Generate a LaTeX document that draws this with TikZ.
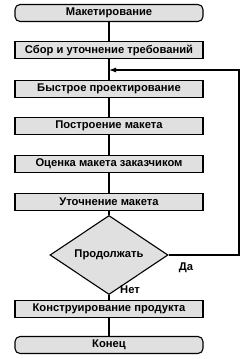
\documentclass[tikz,border=0pt]{standalone}
\usepackage{fontspec}
\setmainfont{Liberation Sans}
\usetikzlibrary{shapes.geometric,arrows.meta}
\begin{document}
\begin{tikzpicture}[x=1pt,y=-1pt,
  txt/.style={font=\fontsize{11.2}{13}\selectfont\bfseries},
  box/.style={txt,draw,line width=1.1pt,fill=gray!24,minimum width=188pt,minimum height=17pt,inner sep=0pt},
  rbox/.style={box,rounded corners=5pt},
  dec/.style={txt,draw,diamond,line width=1.1pt,fill=gray!24,minimum width=118pt,minimum height=54pt,inner sep=0pt},
  lbl/.style={txt,inner sep=0pt},
  conn/.style={line width=1.1pt}]
\useasboundingbox (0,0) rectangle (244,359);
\node[rbox] (b1) at (109,13) {Макетирование};
\node[box] (b2) at (109,50) {Сбор и уточнение требований};
\node[box] (b3) at (109,89) {Быстрое проектирование};
\node[box] (b4) at (109,126) {Построение макета};
\node[box] (b5) at (109,164) {Оценка макета заказчиком};
\node[box] (b6) at (109,202) {Уточнение макета};
\node[dec] (d) at (109,255) {Продолжать};
\node[box] (b7) at (109,309) {Конструирование продукта};
\node[rbox] (b8) at (109,345) {Конец};
\node[lbl] (da) at (186,268) {Да};
\node[lbl] (net) at (130,290) {Нет};
\coordinate (j) at (109,70);
\coordinate (r) at (239,255);
\draw[conn] (b1) -- (b2);
\draw[conn] (b2) -- (b3);
\draw[conn] (b3) -- (b4);
\draw[conn] (b4) -- (b5);
\draw[conn] (b5) -- (b6);
\draw[conn] (b6) -- (d);
\draw[conn] (d) -- (b7);
\draw[conn] (b7) -- (b8);
\draw[conn,-{Latex[length=7pt,width=5pt]}] (d.east) -- (r) |- (j);
\end{tikzpicture}
\end{document}
